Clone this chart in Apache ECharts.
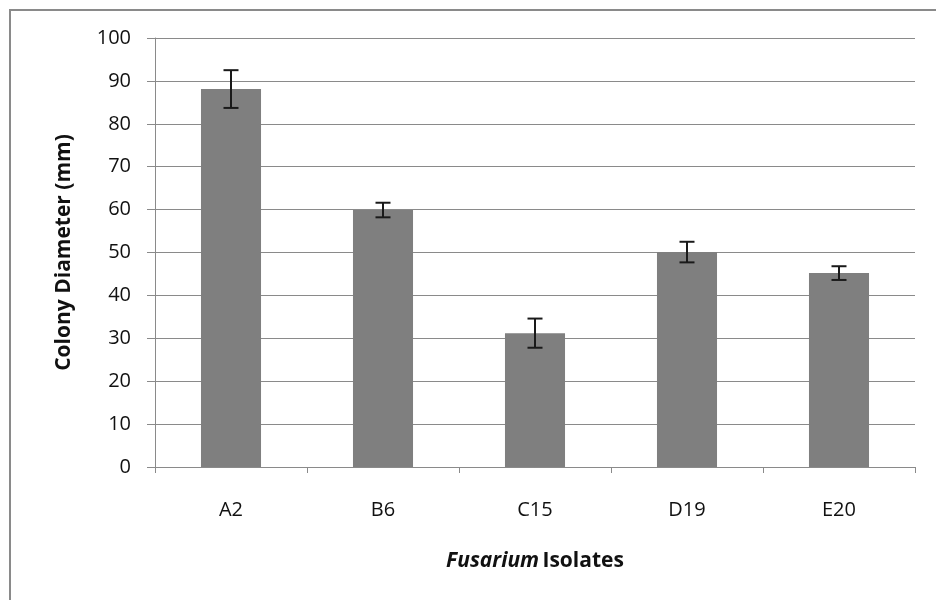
<!DOCTYPE html>
<html>
<head>
<meta charset="utf-8">
<script src="https://cdn.jsdelivr.net/npm/echarts@6/dist/echarts.min.js"></script>
<style>html,body{margin:0;padding:0;background:#fff;}#c{width:936px;height:600px;}</style>
</head>
<body>
<div id="c"></div>
<script>
var categories = ['A2', 'B6', 'C15', 'D19', 'E20'];
var means = [88.1, 59.9, 31.2, 50.1, 45.2];
var errors = [4.4, 1.7, 3.4, 2.4, 1.6];
var yTicks = [0, 10, 20, 30, 40, 50, 60, 70, 80, 90, 100];

var FONT = '"Open Sans", sans-serif';
var chart = echarts.init(document.getElementById('c'), null, {renderer: 'canvas'});
var errData = categories.map(function (c, i) { return [i, means[i] - errors[i], means[i] + errors[i]]; });

chart.setOption({
  animation: false,
  backgroundColor: '#ffffff',
  graphic: [{
    type: 'rect', shape: {x: 10, y: 10, width: 960, height: 620},
    style: {fill: null, stroke: '#8a8a8a', lineWidth: 2}, silent: true, z: -1
  }],
  grid: {left: 155, right: 21, top: 38, bottom: 133, containLabel: false},
  xAxis: {
    type: 'category', data: categories,
    axisLine: {lineStyle: {color: '#8a8a8a', width: 1}},
    axisTick: {show: true, alignWithLabel: false, length: 6, lineStyle: {color: '#8a8a8a'}},
    axisLabel: {color: '#111', fontFamily: FONT, fontSize: 20, margin: 33},
    name: '{i|Fusarium} {b|Isolates}', nameLocation: 'middle', nameGap: 84,
    nameTextStyle: {
      rich: {
        i: {fontFamily: FONT, fontSize: 21, fontWeight: 'bold', fontStyle: 'italic', color: '#111'},
        b: {fontFamily: FONT, fontSize: 21, fontWeight: 'bold', color: '#111'}
      }
    }
  },
  yAxis: {
    type: 'value', min: 0, max: 100, interval: 10,
    axisLine: {show: true, lineStyle: {color: '#8a8a8a', width: 1}},
    axisTick: {show: true, length: 8, lineStyle: {color: '#8a8a8a'}},
    splitLine: {lineStyle: {color: '#8a8a8a', width: 1}},
    axisLabel: {color: '#111', fontFamily: FONT, fontSize: 20, margin: 24,
      formatter: function (v) { return yTicks.indexOf(v) >= 0 ? String(v) : ''; }},
    name: 'Colony Diameter (mm)', nameLocation: 'middle', nameGap: 80, nameRotate: 90,
    nameTextStyle: {fontFamily: FONT, fontSize: 21, fontWeight: 'bold', color: '#111'}
  },
  series: [{
    type: 'bar', data: means, barWidth: '39.5%',
    itemStyle: {color: '#7f7f7f'}, z: 2
  }, {
    type: 'custom', data: errData, z: 5,
    renderItem: function (params, api) {
      var x = api.value(0);
      var lo = api.coord([x, api.value(1)]);
      var hi = api.coord([x, api.value(2)]);
      var hw = 7.5;
      var st = {stroke: '#1a1a1a', lineWidth: 2};
      return {type: 'group', children: [
        {type: 'line', shape: {x1: lo[0], y1: lo[1], x2: hi[0], y2: hi[1]}, style: st},
        {type: 'line', shape: {x1: lo[0] - hw, y1: lo[1], x2: lo[0] + hw, y2: lo[1]}, style: st},
        {type: 'line', shape: {x1: hi[0] - hw, y1: hi[1], x2: hi[0] + hw, y2: hi[1]}, style: st}
      ]};
    }
  }]
});
</script>
</body>
</html>
